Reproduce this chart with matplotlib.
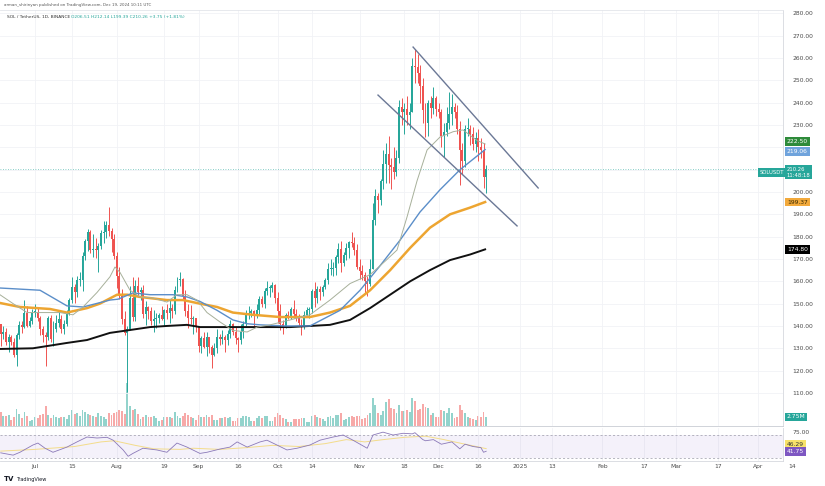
import matplotlib.pyplot as plt
import matplotlib.dates as mdates
import numpy as np
import pandas as pd

plt.rcParams['font.family'] = 'DejaVu Sans'

# daily candles SOL/USDT, 2024-06-18 .. 2024-12-19 (open = previous close)
start = "2024-06-18"
first_open = 141.0
closes = [136.5, 137.5, 133.0, 135.0, 133.0, 127.0, 136.0, 140.5, 139.5, 146.0,
          140.0, 142.0, 146.0, 146.0, 143.5, 138.5, 136.0, 135.0, 143.5, 134.0,
          138.5, 141.5, 143.0, 138.5, 141.0, 145.5, 151.5, 157.5, 155.0, 160.5,
          160.5, 171.5, 178.0, 182.0, 174.0, 174.5, 174.0, 176.0, 181.5, 182.0,
          185.0, 182.5, 179.0, 171.5, 162.5, 153.5, 143.0, 137.0, 138.5, 152.5,
          144.0, 158.0, 155.0, 156.0, 145.5, 148.5, 146.5, 142.0, 143.0, 143.5,
          145.0, 143.0, 147.0, 146.0, 148.0, 146.5, 156.0, 160.5, 161.0, 153.5,
          146.5, 143.5, 143.0, 143.5, 139.5, 131.0, 134.5, 130.5, 135.0, 130.5,
          127.0, 130.0, 135.0, 134.0, 135.0, 133.5, 136.5, 141.0, 137.5, 134.5,
          133.5, 137.5, 141.0, 145.5, 146.0, 146.5, 145.0, 147.0, 152.0, 150.0,
          155.5, 157.0, 157.0, 158.5, 152.5, 146.5, 141.0, 139.5, 145.0, 144.5,
          147.5, 145.5, 144.5, 141.5, 139.5, 145.0, 147.0, 147.5, 155.5, 152.5,
          156.5, 155.0, 157.5, 160.5, 165.5, 165.5, 166.0, 171.0, 174.5, 168.0,
          172.0, 175.0, 177.5, 177.0, 174.0, 166.5, 164.5, 163.0, 160.0, 159.0,
          165.5, 187.5, 198.0, 196.5, 205.0, 212.5, 217.0, 212.0, 211.0, 209.0,
          215.0, 238.0, 236.0, 237.0, 234.5, 236.0, 256.5, 256.0, 253.5, 247.5,
          236.5, 231.0, 240.0, 237.5, 242.0, 237.0, 236.0, 225.0, 227.0, 231.0,
          235.0, 238.0, 236.0, 228.0, 219.0, 214.0, 228.0, 228.0, 226.0, 221.5,
          224.0, 220.0, 219.0, 206.51, 210.26]
highs = [141.0, 140.0, 139.0, 136.5, 136.0, 134.5, 137.0, 142.0, 142.0, 151.5,
         149.0, 144.0, 147.5, 150.0, 148.0, 144.5, 140.0, 137.5, 144.5, 145.0,
         142.0, 145.0, 146.5, 145.0, 142.5, 147.0, 152.5, 162.0, 159.0, 162.5,
         164.0, 173.0, 179.0, 183.5, 183.0, 181.0, 179.5, 177.0, 183.0, 187.0,
         187.0, 193.5, 184.0, 181.0, 173.0, 166.5, 156.5, 146.5, 140.0, 158.0,
         162.0, 160.5, 162.0, 157.5, 158.5, 151.0, 149.0, 148.5, 147.0, 146.0,
         146.0, 149.0, 147.5, 150.0, 151.5, 150.0, 158.0, 162.0, 164.0, 161.5,
         156.0, 150.0, 149.5, 144.5, 143.5, 140.0, 135.5, 137.5, 137.5, 135.0,
         131.5, 132.5, 138.5, 136.5, 138.0, 136.0, 138.0, 142.5, 141.5, 139.5,
         135.0, 141.0, 142.0, 147.0, 149.0, 147.5, 147.0, 150.0, 153.5, 153.5,
         157.0, 160.0, 158.5, 159.5, 159.0, 155.0, 150.0, 142.5, 146.0, 146.5,
         148.5, 151.5, 147.5, 145.5, 143.0, 146.5, 148.5, 148.5, 156.5, 159.5,
         158.0, 158.0, 158.5, 161.5, 168.0, 170.0, 168.5, 172.0, 177.0, 178.0,
         173.0, 177.0, 178.0, 182.0, 180.0, 176.5, 170.0, 167.5, 164.0, 162.5,
         170.0, 195.0, 201.5, 199.5, 206.0, 219.0, 222.0, 225.0, 215.0, 220.0,
         219.0, 241.0, 242.0, 240.0, 243.0, 240.0, 260.0, 264.0, 262.0, 257.0,
         251.0, 240.0, 241.0, 243.0, 247.0, 243.0, 240.0, 237.0, 231.0, 238.0,
         245.0, 244.0, 240.0, 239.0, 232.0, 222.0, 230.0, 233.0, 230.0, 229.0,
         227.0, 228.0, 224.0, 222.0, 212.14]
lows = [131.0, 134.0, 131.5, 128.5, 131.5, 126.0, 122.0, 134.0, 137.0, 139.0,
        139.5, 139.5, 141.0, 144.0, 142.0, 136.0, 133.0, 122.0, 133.5, 133.0,
        131.0, 137.5, 139.5, 137.0, 136.5, 140.0, 145.0, 150.5, 150.5, 153.0,
        158.0, 155.5, 169.5, 173.5, 172.5, 171.0, 170.5, 164.0, 174.5, 177.0,
        179.5, 180.5, 173.0, 170.0, 157.0, 152.0, 141.0, 136.0, 110.5, 138.0,
        142.0, 142.0, 153.0, 151.5, 143.5, 140.5, 143.0, 140.5, 137.5, 139.0,
        141.5, 142.5, 140.0, 143.0, 141.5, 143.5, 145.5, 155.0, 158.0, 151.5,
        144.5, 139.0, 141.0, 136.5, 137.5, 128.5, 128.0, 130.0, 126.5, 128.0,
        121.0, 126.5, 128.0, 131.5, 132.0, 128.5, 131.5, 134.5, 136.0, 132.0,
        128.5, 132.0, 134.5, 140.0, 143.0, 144.0, 139.0, 143.5, 145.0, 148.5,
        148.0, 154.0, 153.0, 155.0, 150.5, 141.5, 138.0, 136.5, 139.0, 143.0,
        143.0, 143.5, 142.0, 140.0, 136.0, 138.5, 144.0, 143.5, 146.0, 148.5,
        150.5, 151.5, 153.5, 156.5, 159.0, 163.0, 162.5, 163.0, 168.0, 164.0,
        167.0, 169.5, 170.5, 175.5, 172.0, 165.5, 161.0, 160.5, 154.5, 153.5,
        158.0, 165.5, 185.0, 190.5, 194.0, 201.5, 204.0, 204.0, 201.5, 206.0,
        207.0, 213.0, 230.0, 226.0, 230.0, 228.0, 236.0, 249.0, 249.0, 240.0,
        231.0, 224.5, 225.0, 233.0, 235.0, 234.0, 233.0, 220.0, 215.5, 225.0,
        228.0, 230.0, 233.0, 226.0, 203.0, 208.0, 211.0, 225.0, 221.0, 219.0,
        218.0, 214.0, 215.0, 202.0, 199.39]
volumes = [4.2, 3.0, 3.1, 3.4, 1.8, 2.6, 5.1, 3.6, 2.4, 4.4,
           3.2, 1.5, 1.9, 2.6, 2.4, 3.3, 3.7, 6.2, 3.3, 2.3,
           3.4, 2.7, 2.4, 2.8, 2.9, 2.2, 3.3, 4.8, 3.7, 3.9,
           3.1, 4.9, 4.2, 3.6, 3.5, 3.1, 2.8, 4.1, 3.0, 2.8,
           2.2, 4.0, 3.4, 3.9, 4.3, 4.9, 4.6, 3.7, 13.0, 6.2,
           5.0, 5.1, 3.8, 2.1, 2.9, 3.5, 2.6, 2.8, 3.2, 2.4,
           1.5, 1.7, 2.7, 2.9, 2.8, 2.3, 4.3, 3.0, 2.5, 3.0,
           4.0, 3.5, 2.6, 2.4, 1.7, 3.4, 2.6, 2.8, 3.4, 2.6,
           3.5, 1.8, 1.9, 2.5, 2.4, 2.6, 2.3, 2.7, 1.5, 1.6,
           2.4, 2.5, 3.0, 3.2, 2.6, 1.6, 1.5, 2.3, 3.0, 2.5,
           3.1, 3.0, 1.6, 1.5, 2.6, 3.9, 3.5, 2.4, 2.1, 1.2,
           1.3, 2.2, 2.0, 2.0, 2.3, 2.3, 1.3, 1.2, 3.2, 3.3,
           2.7, 2.4, 2.0, 1.6, 2.6, 3.0, 2.4, 3.3, 3.5, 4.0,
           1.9, 2.0, 2.6, 3.2, 2.9, 3.0, 3.2, 2.2, 2.5, 3.4,
           3.9, 8.7, 6.5, 4.1, 3.3, 4.6, 7.2, 8.3, 5.6, 5.2,
           4.0, 6.4, 4.6, 4.5, 4.9, 4.3, 8.6, 7.7, 4.9, 5.3,
           6.6, 5.7, 5.4, 3.4, 3.9, 2.6, 2.7, 4.9, 4.6, 4.1,
           5.5, 4.1, 2.3, 2.8, 6.3, 5.0, 4.0, 2.9, 2.5, 2.0,
           1.8, 3.2, 2.8, 4.4, 2.75]

# indicator lines: days after 2024-07-01 and value
ref_day = "2024-07-01"
thin_days = [-13.3, -8.3, -3, 3, 9.5, 14.4, 18.2, 23.5, 28.4, 30.3, 32.2, 36, 39.8,
             44.7, 50, 53.8, 57.6, 61.4, 65.2, 70.1, 75, 80.4, 84.2, 89.1, 96.7,
             104.2, 111.8, 119.4, 127, 132.7, 137.2, 141, 144.8, 148.6, 153.5,
             158.5, 162.2, 167.6, 170.6]
thin_vals = [154, 150, 146, 146, 146, 145, 148.5, 155, 162, 166.4, 164, 156, 153,
             152.5, 150.7, 154, 154, 151.6, 146, 141.8, 138, 137.3, 139.5, 140.5, 142.7,
             145, 151.6, 159, 163, 169, 174, 188.8, 205, 218.8, 224.6,
             227, 227.8, 223, 221.5]
blue_days = [-13.3, 1.9, 12.1, 18.2, 28.4, 31.5, 37.1, 43.6, 52.3, 57.6, 62.5, 69, 75,
             80.4, 85.3, 94.8, 104.2, 115.6, 123.2, 130.8, 138.4, 145.9, 153.5, 161.1, 170.6]
blue_vals = [157, 156, 149, 148.5, 151.6, 152, 154.8, 154, 154, 153, 151, 147, 142.7,
             141, 140.5, 140, 140, 147, 156, 167, 178.5, 191, 201, 210, 219]
orange_days = [-13.3, -5.7, 5.7, 12.1, 19.7, 24.6, 31.1, 34.9, 39.8, 50, 56.1, 62.5, 69,
               75, 82.6, 92.9, 104.2, 111.8, 119.4, 127, 134.6, 142.2, 149.7, 157.3,
               164.9, 170.6]
orange_vals = [150.3, 148.5, 147.6, 146, 148, 150, 154, 154, 153, 151.6, 151.6, 150, 148.5,
               146, 145, 144, 144, 146, 149, 156, 165, 175, 184, 190,
               193, 195.5]
black_days = [-13.3, -0.8, 12.1, 19.7, 28.4, 34.9, 43.6, 50, 57.6, 62.5, 75, 85.3, 96.7,
              111.8, 119.4, 127, 134.6, 142.2, 149.7, 157.3, 164.9, 170.6]
black_vals = [129.7, 130, 132.4, 133.7, 136.9, 138, 139.5, 140, 140.5, 139.5, 139.5, 139.5,
              139.5, 140.5, 142.7, 148, 154, 160, 165, 169.5, 172, 174.3]

rsi_days = [-13, -8.3, -5.7, -0.8, 1.1, 3.8, 6.8, 12.1, 15.9, 19.7, 23.5, 27.3, 29.6,
            33.4, 35.3, 37.1, 40.9, 46.2, 50, 53.8, 57.6, 62.5, 65.2, 70.1, 73.9, 76.6,
            80.4, 85.3, 87.9, 91.7, 95.5, 99.3, 104.2, 108, 113, 116.8, 120.5, 125.9,
            128.1, 131.9, 135.7, 139.5, 143, 144, 147, 148, 151, 154, 158, 161, 163,
            166, 169, 170, 171]
rsi_vals = [39, 35, 40, 52.6, 56, 47, 40, 49, 58, 66.5, 64.8, 66, 61,
            44, 33, 38, 47, 44, 40, 56, 49, 38, 40, 45.6, 49, 58,
            49, 58, 61, 52.6, 44, 47, 52.6, 61, 66.5, 70, 61, 47,
            70, 75, 70, 73, 72, 74, 62, 60, 62, 54, 58, 46, 54,
            50, 48, 40, 41.75]
rsi_ma_days = [-13, 0, 15, 25, 30, 38, 45, 55, 60, 70, 80, 90, 100, 110, 118, 125, 132,
               140, 148, 155, 162, 171]
rsi_ma_vals = [42, 45, 50, 58, 60, 52, 46, 45, 47, 45, 48, 52, 50, 55, 62, 58, 62,
               66, 68, 62, 55, 46.3]

# hand-drawn falling channel (days after 2024-07-01, price)
channel_upper = [(143.3, 264.9), (190.7, 201.8)]
channel_lower = [(130.0, 243.4), (182.7, 184.8)]

tick_dates = ["2024-07-01", "2024-07-15", "2024-08-01", "2024-08-19", "2024-09-01",
              "2024-09-16", "2024-10-01", "2024-10-14", "2024-11-01", "2024-11-18",
              "2024-12-01", "2024-12-16", "2025-01-01", "2025-01-13", "2025-02-01",
              "2025-02-17", "2025-03-01", "2025-03-17", "2025-04-01", "2025-04-14"]
tick_labels = ["Jul", "15", "Aug", "19", "Sep", "16", "Oct", "14", "Nov", "18",
               "Dec", "16", "2025", "13", "Feb", "17", "Mar", "17", "Apr", "14"]

UP = '#26a69a'
DN = '#ef5350'
GRID = '#f1f2f6'
LBL = '#4a4a4a'
FS = 4.3

fig = plt.figure(figsize=(8.25, 4.86), dpi=100)
fig.patch.set_facecolor('white')

ax_rect = [0, 1 - 426 / 486, 783 / 825, 416 / 486]
ax_v = fig.add_axes(ax_rect)
ax = fig.add_axes(ax_rect, sharex=ax_v)
ax_r = fig.add_axes([0, 1 - 461 / 486, 783 / 825, 33 / 486], sharex=ax_v)
ax.set_zorder(2)
ax.patch.set_visible(False)

ref = mdates.date2num(pd.Timestamp(ref_day))
x = mdates.date2num(pd.date_range(start, periods=len(closes)))
c = np.array(closes)
o = np.array([first_open] + closes[:-1])
up = c >= o
col = np.where(up, UP, DN)

# volume
ax_v.bar(x, volumes, width=0.72, color=np.where(up, '#93d3cc', '#f7a9a8'), linewidth=0)
ax_v.set_ylim(0, 127)
ax_v.axis('off')

# grid
xt = mdates.date2num(pd.to_datetime(tick_dates))
for t in xt:
    ax.axvline(t, color=GRID, lw=0.6, zorder=0)
    ax_r.axvline(t, color=GRID, lw=0.6, zorder=0)
price_ticks = np.arange(110, 290, 10)
for p in price_ticks:
    ax.axhline(p, color=GRID, lw=0.6, zorder=0)

# candles
ax.vlines(x, lows, highs, colors=col, lw=0.7, zorder=3)
ax.bar(x, np.maximum(np.abs(c - o), 0.5), bottom=np.minimum(o, c), width=0.74,
       color=col, linewidth=0, zorder=4)

# moving averages
ax.plot(ref + np.array(black_days), black_vals, color='#111111', lw=1.4, zorder=5)
ax.plot(ref + np.array(orange_days), orange_vals, color='#eda531', lw=1.8, zorder=5)
ax.plot(ref + np.array(blue_days), blue_vals, color='#5b8ec9', lw=1.0, zorder=5)
ax.plot(ref + np.array(thin_days), thin_vals, color='#a7b09a', lw=0.7, zorder=5)

# channel
for line in (channel_upper, channel_lower):
    d, p = zip(*line)
    ax.plot(ref + np.array(d), p, color='#6b7896', lw=1.0, zorder=6)

# last price line
ax.axhline(closes[-1], color=UP, lw=0.6, ls=(0, (1, 2)), alpha=0.7, zorder=1)

ax.set_xlim(ref - 13.27, ref + 283.5)
ax.set_ylim(95.2, 281.5)
ax.yaxis.tick_right()
ax.set_yticks(price_ticks)
ax.set_yticklabels(["" if p in (210, 220) else f"{p:.2f}" for p in price_ticks])
ax.tick_params(axis='y', length=0, pad=7, labelsize=FS, labelcolor=LBL)
ax.tick_params(axis='x', length=0, labelbottom=False)
ax.spines['left'].set_visible(False)
ax.spines['top'].set_color('#e3e5ea')
ax.spines['right'].set_color('#d6d8de')
ax.spines['bottom'].set_color('#c9ccd3')
for s in ax.spines.values():
    s.set_linewidth(0.6)


def tag(a, val, text, fc, tc='white', xpos=1.005, size=FS):
    a.text(xpos, val, text, transform=a.get_yaxis_transform(), ha='left', va='center',
           fontsize=size, color=tc, clip_on=False, zorder=10,
           bbox=dict(boxstyle='square,pad=0.3', fc=fc, ec='none'))


tag(ax, 222.5, "222.50", '#2e8b3a')
tag(ax, 218.2, "219.06", '#6fa3dc')
tag(ax, closes[-1] - 1.5, "210.26\n11:48:18", UP, size=3.8)
tag(ax, closes[-1] - 1.5, "SOLUSDT", UP, xpos=760 / 783, size=3.8)
tag(ax, 195.5, "199.37", '#f2a93b', tc='#3a2a00')
tag(ax, 174.3, "174.80", '#000000')
tag(ax_v, 2.75, "2.75M", UP)

# RSI pane
ax_r.axhspan(30, 70, color='#7e57c2', alpha=0.08, lw=0)
for lvl in (70, 30):
    ax_r.axhline(lvl, color='#9a9aa8', lw=0.5, ls=(0, (3, 3)))
ax_r.plot(ref + np.array(rsi_ma_days), rsi_ma_vals, color='#f3dc8a', lw=0.7)
ax_r.plot(ref + np.array(rsi_days), rsi_vals, color='#8b79b8', lw=0.6)
ax_r.set_ylim(24.8, 82.2)
ax_r.yaxis.tick_right()
ax_r.set_yticks([75])
ax_r.set_yticklabels(["75.00"])
ax_r.tick_params(axis='y', length=0, pad=7, labelsize=FS, labelcolor=LBL)
tag(ax_r, 53.5, "46.29", '#f7e26b', tc='#333333')
tag(ax_r, 41.0, "41.75", '#7e57c2')
ax_r.set_xticks(xt[:-1])
ax_r.set_xticklabels(tick_labels[:-1])
ax_r.tick_params(axis='x', length=0, pad=2.5, labelsize=FS, labelcolor=LBL)
ax_r.text(xt[-1], -0.16, tick_labels[-1], transform=ax_r.get_xaxis_transform(),
          ha='center', va='center', fontsize=FS, color=LBL, clip_on=False)
ax_r.spines['left'].set_visible(False)
ax_r.spines['top'].set_visible(False)
ax_r.spines['right'].set_color('#d6d8de')
ax_r.spines['bottom'].set_color('#d6d8de')
for s in ax_r.spines.values():
    s.set_linewidth(0.6)

# header and logo
fig.text(4 / 825, 1 - 5 / 486, "arman_shirinyan published on TradingView.com, Dec 19, 2024 10:11 UTC",
         fontsize=2.9, color='#555555', va='center')
fig.text(7 / 825, 1 - 17 / 486, "SOL / TetherUS, 1D, BINANCE", fontsize=3.2, color='#333333', va='center')
fig.text(71 / 825, 1 - 17 / 486, "O206.51 H212.14 L199.39 C210.26 +3.75 (+1.81%)",
         fontsize=3.2, color=UP, va='center')
fig.text(4 / 825, 1 - 479 / 486, "TV", fontsize=5, fontweight='bold', color='#131722', va='center')
fig.text(16 / 825, 1 - 479 / 486, "TradingView", fontsize=3.6, color='#131722', va='center')

plt.savefig('out.png', dpi=100)
